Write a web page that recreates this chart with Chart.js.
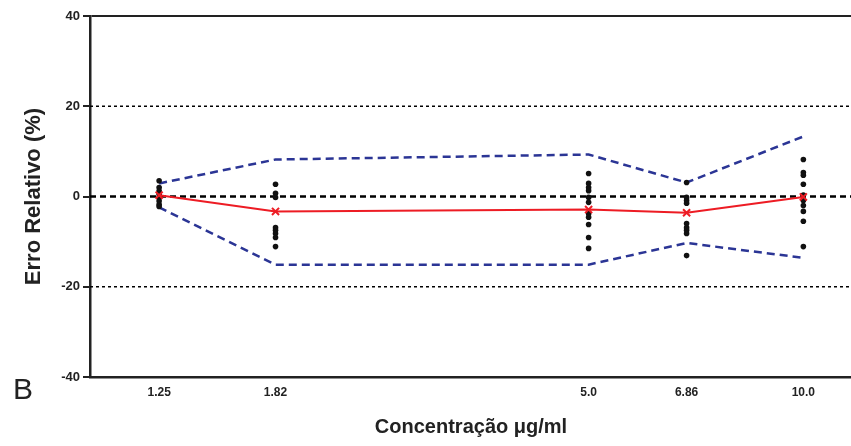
<!DOCTYPE html>
<html>
<head>
<meta charset="utf-8">
<script src="https://cdn.jsdelivr.net/npm/chart.js@4.4.0/dist/chart.umd.min.js"></script>
<style>
  html, body { margin: 0; padding: 0; background: #fff; overflow: hidden; }
  #wrap { width: 851px; height: 446px; overflow: hidden; }
</style>
</head>
<body>
<div id="wrap"><canvas id="chart" width="859" height="446"></canvas></div>
<script>
// Concentrations (log x axis) and their tick labels
const concentrations = [1.25, 1.82, 5.0, 6.86, 10.0];
const tickLabels = ['1.25', '1.82', '5.0', '6.86', '10.0'];
const xMin = 1;
const xMax = 11.7;

// Individual relative errors (%) at each concentration
const errors125 = [3.5, 2.0, 1.2, 0.5, -0.3, -1.0, -1.8, -2.2];
const errors182 = [2.7, 0.7, -0.2, -6.9, -7.5, -8.2, -9.1, -11.1];
const errors500 = [5.1, 2.9, 2.0, 1.3, -0.2, -1.3, -3.8, -4.6, -6.2, -9.1, -11.5];
const errors686 = [3.1, -0.2, -0.9, -1.5, -6.0, -6.9, -7.5, -8.2, -13.1];
const errors1000 = [8.2, 5.3, 4.7, 2.7, 0.3, -0.9, -2.0, -3.3, -5.5, -11.1];

// Mean error and limits
const meanError = [0.3, -3.3, -2.9, -3.6, -0.1];
const upperLimit = [2.9, 8.2, 9.3, 3.1, 13.3];
const lowerLimit = [-2.4, -15.1, -15.1, -10.3, -13.6];

// Horizontal reference lines
const refLevels = [20, 0, -20];

const FONT = "'Liberation Sans', Arial, sans-serif";
const INK = '#222';
const BLUE = '#2b3595';
const RED = '#ed1c24';

const errorGroups = [errors125, errors182, errors500, errors686, errors1000];
const dots = [];
errorGroups.forEach((group, i) => {
  group.forEach(v => dots.push({ x: concentrations[i], y: v }));
});

const pairs = (ys) => concentrations.map((x, i) => ({ x: x, y: ys[i] }));

const refDatasets = refLevels.map(level => ({
  type: 'line',
  data: [{ x: xMin, y: level }, { x: xMax, y: level }],
  borderColor: '#000',
  borderWidth: level === 0 ? 2.5 : 1.5,
  borderDash: level === 0 ? [6, 4] : [3, 3],
  pointRadius: 0,
  fill: false
}));

// Panel letter
const panelLetter = {
  id: 'panelLetter',
  afterDraw(chart) {
    const ctx = chart.ctx;
    ctx.save();
    ctx.fillStyle = INK;
    ctx.font = '30px ' + FONT;
    ctx.textBaseline = 'alphabetic';
    ctx.fillText('B', 13, 399);
    ctx.restore();
  }
};

new Chart(document.getElementById('chart'), {
  type: 'scatter',
  data: {
    datasets: [
      {
        type: 'line',
        data: pairs(meanError),
        borderColor: RED,
        borderWidth: 2,
        pointStyle: 'crossRot',
        pointRadius: 5,
        pointBorderWidth: 2,
        pointBorderColor: RED,
        fill: false
      },
      {
        data: dots,
        backgroundColor: '#111',
        borderColor: '#111',
        pointRadius: 2.8,
        borderWidth: 0
      },
      {
        type: 'line',
        data: pairs(upperLimit),
        borderColor: BLUE,
        borderWidth: 2.5,
        borderDash: [8, 5],
        pointRadius: 0,
        fill: false
      },
      {
        type: 'line',
        data: pairs(lowerLimit),
        borderColor: BLUE,
        borderWidth: 2.5,
        borderDash: [8, 5],
        pointRadius: 0,
        fill: false
      },
      ...refDatasets
    ]
  },
  options: {
    responsive: false,
    animation: false,
    events: [],
    layout: { padding: { top: 16, right: 0, bottom: 0, left: 0 } },
    plugins: {
      legend: { display: false },
      tooltip: { enabled: false }
    },
    scales: {
      x: {
        type: 'logarithmic',
        min: xMin,
        max: xMax,
        afterBuildTicks: (axis) => {
          axis.ticks = concentrations.map(v => ({ value: v }));
        },
        afterFit: (axis) => { axis.height = 69; },
        grid: { display: false, drawTicks: false },
        border: { display: true, color: INK, width: 2.5 },
        ticks: {
          autoSkip: false,
          maxRotation: 0,
          padding: 8,
          color: INK,
          font: { family: FONT, size: 12, weight: 'bold' },
          callback: (value) => {
            const i = concentrations.indexOf(value);
            return i >= 0 ? tickLabels[i] : '';
          }
        },
        title: {
          display: true,
          text: 'Concentração μg/ml',
          color: INK,
          font: { family: FONT, size: 20, weight: 'bold' },
          padding: { top: 0, bottom: 7 }
        }
      },
      y: {
        min: -40,
        max: 40,
        afterFit: (axis) => { axis.width = 90; },
        grid: {
          color: (ctx) => (ctx.tick && ctx.tick.value === 40 ? INK : 'rgba(0,0,0,0)'),
          lineWidth: 2,
          tickColor: INK,
          tickLength: 7,
          tickWidth: 2
        },
        border: { display: true, color: INK, width: 2.5 },
        ticks: {
          stepSize: 20,
          padding: 3,
          color: INK,
          font: { family: FONT, size: 13, weight: 'bold' }
        },
        title: {
          display: true,
          text: 'Erro Relativo (%)',
          color: INK,
          font: { family: FONT, size: 22, weight: 'bold' },
          padding: { top: 21, bottom: 0 }
        }
      }
    }
  },
  plugins: [panelLetter]
});
</script>
</body>
</html>
